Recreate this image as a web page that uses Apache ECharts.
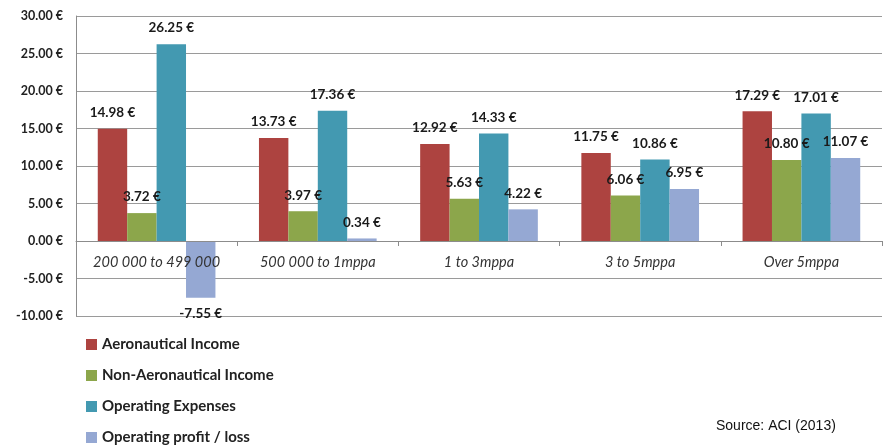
<!DOCTYPE html>
<html>
<head>
<meta charset="utf-8">
<script src="https://cdn.jsdelivr.net/npm/echarts@6/dist/echarts.min.js"></script>
<style>
  html, body { margin: 0; padding: 0; background: #fff; }
  #chart { width: 885px; height: 448px; }
</style>
</head>
<body>
<div id="chart"></div>
<script>
// Airport size bands
const categories = ['200 000 to 499 000', '500 000 to 1mppa', '1 to 3mppa', '3 to 5mppa', 'Over 5mppa'];

// Per-passenger values in euros
const aeronauticalIncome = [14.98, 13.73, 12.92, 11.75, 17.29];
const nonAeronauticalIncome = [3.72, 3.97, 5.63, 6.06, 10.80];
const operatingExpenses = [26.25, 17.36, 14.33, 10.86, 17.01];
const operatingProfit = [-7.55, 0.34, 4.22, 6.95, 11.07];

const seriesNames = ['Aeronautical Income', 'Non-Aeronautical Income', 'Operating Expenses', 'Operating profit / loss'];
const seriesValues = [aeronauticalIncome, nonAeronauticalIncome, operatingExpenses, operatingProfit];
const seriesColors = ['#ad4340', '#8ca64b', '#4399b1', '#95a8d3'];

const labelFont = 'Lato, "Open Sans", sans-serif';

const chart = echarts.init(document.getElementById('chart'));

const series = seriesNames.map((name, i) => ({
  name,
  type: 'bar',
  barGap: '0%',
  barCategoryGap: '27%',
  itemStyle: { color: seriesColors[i] },
  label: {
    show: true,
    position: 'top',
    distance: 9,
    fontFamily: labelFont,
    fontWeight: 'bold',
    fontSize: 13.5,
    color: '#1a1a1a',
    formatter: p => p.value.toFixed(2) + ' €'
  },
  data: seriesValues[i].map(v => v < 0 ? { value: v, label: { position: 'bottom' } } : v)
}));

chart.setOption({
  animation: false,
  backgroundColor: '#ffffff',
  grid: { left: 76, right: 3, top: 16, bottom: 132 },
  legend: {
    orient: 'vertical',
    left: 86,
    top: 337,
    height: 120,
    padding: 0,
    itemWidth: 11,
    itemHeight: 11,
    itemGap: 16,
    icon: 'rect',
    textStyle: { fontFamily: labelFont, fontSize: 15, color: '#222', fontWeight: 'bold' },
    data: seriesNames
  },
  graphic: [{
    type: 'text',
    left: 716,
    top: 419,
    style: { text: 'Source: ACI (2013)', font: '14px "Liberation Sans", Arial, sans-serif', fill: '#111' }
  }],
  xAxis: {
    type: 'category',
    data: categories,
    offset: -75,
    z: 5,
    axisLine: { onZero: false, lineStyle: { color: '#8c8c8c', width: 1 } },
    axisTick: { show: true, length: 5, lineStyle: { color: '#8c8c8c' } },
    axisLabel: {
      interval: 0,
      margin: 14,
      fontFamily: labelFont,
      fontStyle: 'italic',
      fontSize: 14.5,
      color: '#333'
    }
  },
  yAxis: {
    type: 'value',
    min: -10,
    max: 30,
    interval: 5,
    axisLine: { show: true, lineStyle: { color: '#8c8c8c' } },
    axisTick: { show: false },
    splitLine: { lineStyle: { color: '#9a9a9a', width: 1 } },
    axisLabel: {
      margin: 13,
      fontFamily: labelFont,
      fontWeight: 'bold',
      fontSize: 12.5,
      color: '#222',
      formatter: v => v.toFixed(2) + ' €'
    }
  },
  series
});
</script>
</body>
</html>
